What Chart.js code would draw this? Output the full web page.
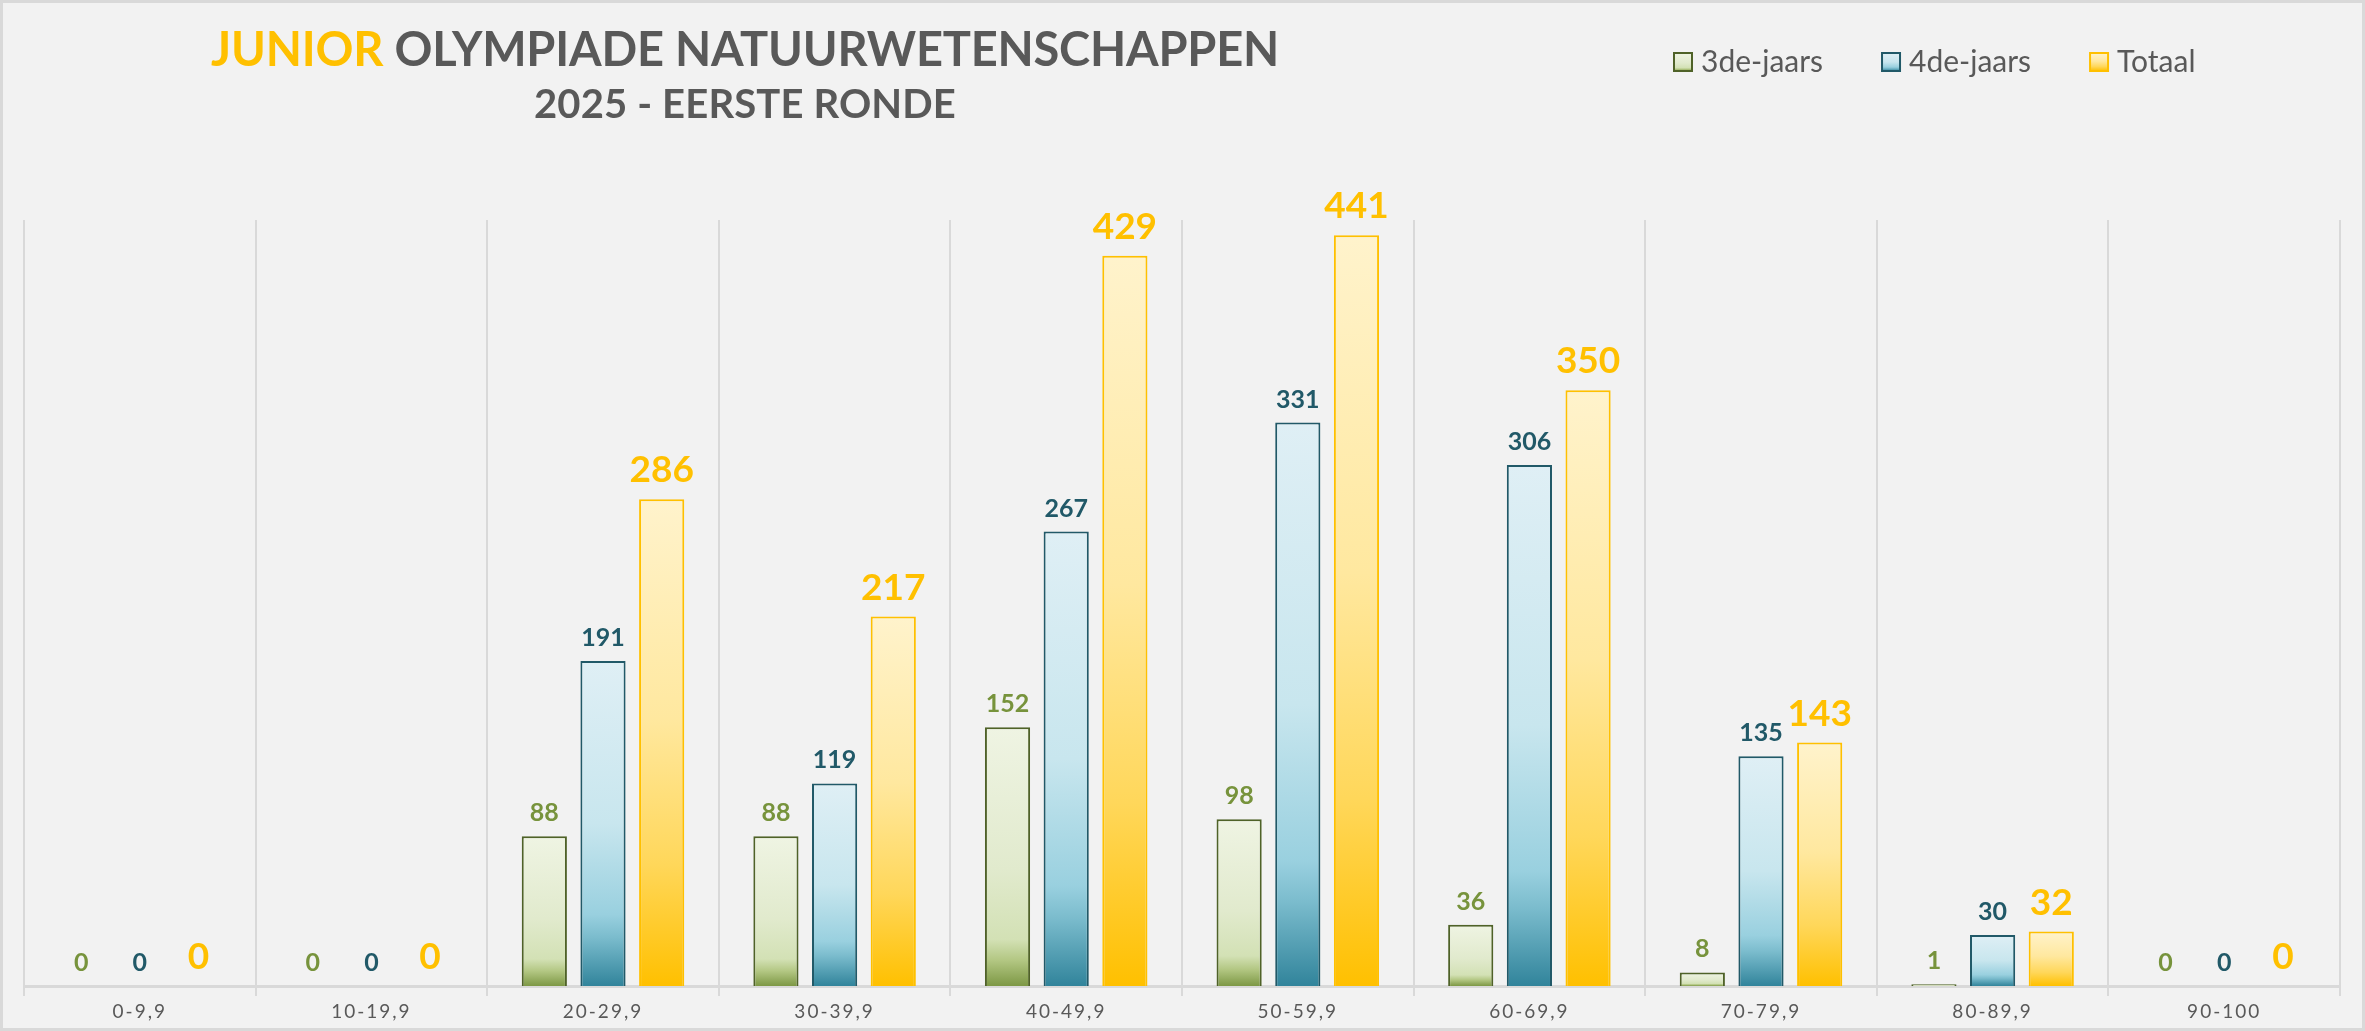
<!DOCTYPE html>
<html>
<head>
<meta charset="utf-8">
<script src="https://cdn.jsdelivr.net/npm/chart.js@4/dist/chart.umd.min.js"></script>
<style>
	html, body { margin: 0; padding: 0; background: #f2f2f2; }
	canvas { display: block; }
</style>
</head>
<body>
<canvas id="olympiade-chart" width="2365" height="1031"></canvas>
<script>
// Data
const categories = ["0-9,9", "10-19,9", "20-29,9", "30-39,9", "40-49,9", "50-59,9", "60-69,9", "70-79,9", "80-89,9", "90-100"];
const derdeJaars = [0, 0, 88, 88, 152, 98, 36, 8, 1, 0];
const vierdeJaars = [0, 0, 191, 119, 267, 331, 306, 135, 30, 0];
const totaal = [0, 0, 286, 217, 429, 441, 350, 143, 32, 0];
const seriesNames = ["3de-jaars", "4de-jaars", "Totaal"];

const theme = {
	bg: "#f2f2f2",
	frame: "#d9d9d9",
	grid: "#d9d9d9",
	text: "#595959",
	gold: "#ffc000",
	font: "Lato, 'Open Sans', sans-serif"
};

const seriesStyle = [
	{
		border: "#4f6228",
		label: "#77933c",
		labelSize: 25,
		stops: [[0, "#eff4e3"], [0.55, "#e1eacd"], [0.82, "#d3e1b5"], [0.9, "#b3c783"], [1, "#7d9845"]]
	},
	{
		border: "#215968",
		label: "#215968",
		labelSize: 25,
		stops: [[0, "#dfeff5"], [0.5, "#c8e6ee"], [0.78, "#99d0df"], [0.85, "#7bbccd"], [1, "#31849b"]]
	},
	{
		border: "#ffc000",
		label: "#ffc000",
		labelSize: 37,
		stops: [[0, "#fff3cc"], [0.45, "#ffe89f"], [0.75, "#ffd75a"], [1, "#ffc000"]]
	}
];

function makeGradient(ctx, stops, top, bottom) {
	const g = ctx.createLinearGradient(0, top, 0, bottom);
	stops.forEach(([at, color]) => g.addColorStop(at, color));
	return g;
}

function barFill(index) {
	return (context) => {
		const chart = context.chart;
		const yScale = chart.scales.y;
		const stops = seriesStyle[index].stops;
		if (!chart.chartArea || !yScale || context.raw === undefined) return stops[1][1];
		const top = yScale.getPixelForValue(context.raw);
		const bottom = yScale.getPixelForValue(0);
		if (bottom - top < 1) return stops[stops.length - 1][1];
		return makeGradient(chart.ctx, stops, top, bottom);
	};
}

// Title, legend, frame
const decorPlugin = {
	id: "decor",
	beforeDraw(chart) {
		const ctx = chart.ctx;
		ctx.save();
		ctx.fillStyle = theme.bg;
		ctx.fillRect(0, 0, chart.width, chart.height);
		ctx.restore();
		// letter spaced axis labels
		ctx.letterSpacing = "2px";
	},
	beforeDatasetsDraw(chart) {
		chart.ctx.letterSpacing = "0px";
	},
	afterDraw(chart) {
		const ctx = chart.ctx;
		ctx.save();
		ctx.strokeStyle = theme.frame;
		ctx.lineWidth = 3;
		ctx.strokeRect(1.5, 1.5, chart.width - 3, chart.height - 3);

		// title
		ctx.textBaseline = "alphabetic";
		ctx.textAlign = "left";
		ctx.font = `bold 47px ${theme.font}`;
		const first = "JUNIOR";
		const rest = " OLYMPIADE NATUURWETENSCHAPPEN";
		const rawW = ctx.measureText(first + rest).width;
		const targetW = 1068;
		const ls = (targetW - rawW) / (first + rest).length;
		ctx.letterSpacing = `${ls}px`;
		const w1 = ctx.measureText(first).width;
		const w2 = ctx.measureText(rest).width;
		let x = 745 - (w1 + w2) / 2;
		ctx.fillStyle = theme.gold;
		ctx.fillText(first, x, 66);
		ctx.fillStyle = theme.text;
		ctx.fillText(rest, x + w1, 66);

		ctx.font = `bold 40px ${theme.font}`;
		const sub = "2025 - EERSTE RONDE";
		ctx.letterSpacing = "0px";
		const subRaw = ctx.measureText(sub).width;
		ctx.letterSpacing = `${(422 - subRaw) / sub.length}px`;
		ctx.textAlign = "center";
		ctx.fillText(sub, 745, 118);
		ctx.letterSpacing = "0px";

		// legend
		ctx.font = `30px ${theme.font}`;
		ctx.textAlign = "left";
		ctx.textBaseline = "middle";
		let lx = 1674;
		const ly = 62;
		seriesNames.forEach((name, i) => {
			const st = seriesStyle[i];
			ctx.fillStyle = makeGradient(ctx, st.stops, ly - 9, ly + 9);
			ctx.fillRect(lx, ly - 9, 18, 18);
			ctx.strokeStyle = st.border;
			ctx.lineWidth = 2;
			ctx.strokeRect(lx, ly - 9, 18, 18);
			ctx.fillStyle = theme.text;
			ctx.fillText(name, lx + 27, ly);
			lx += 27 + ctx.measureText(name).width + 59;
		});
		ctx.restore();
	}
};

// Values above the bars
const valueLabelPlugin = {
	id: "valueLabels",
	afterDatasetsDraw(chart) {
		const ctx = chart.ctx;
		ctx.save();
		ctx.textAlign = "center";
		ctx.textBaseline = "alphabetic";
		chart.data.datasets.forEach((ds, i) => {
			const st = seriesStyle[i];
			const meta = chart.getDatasetMeta(i);
			ctx.font = `bold ${st.labelSize}px ${theme.font}`;
			ctx.fillStyle = st.label;
			const gap = i === 2 ? 17 : 15;
			meta.data.forEach((bar, j) => {
				ctx.fillText(String(ds.data[j]), bar.x, bar.y - gap);
			});
		});
		ctx.restore();
	}
};

function buildDataset(label, data, index) {
	return {
		label,
		data,
		backgroundColor: barFill(index),
		borderColor: seriesStyle[index].border,
		borderWidth: 2,
		borderSkipped: "bottom",
		categoryPercentage: 0.76,
		barPercentage: 0.77
	};
}

new Chart(document.getElementById("olympiade-chart"), {
	type: "bar",
	data: {
		labels: categories,
		datasets: [
			buildDataset(seriesNames[0], derdeJaars, 0),
			buildDataset(seriesNames[1], vierdeJaars, 1),
			buildDataset(seriesNames[2], totaal, 2)
		]
	},
	options: {
		responsive: false,
		animation: false,
		devicePixelRatio: 1,
		layout: { padding: { top: 220, left: 24, right: 25, bottom: 0 } },
		plugins: {
			legend: { display: false },
			title: { display: false },
			tooltip: { enabled: false }
		},
		scales: {
			x: {
				grid: { color: theme.grid, lineWidth: 2, offset: true, tickLength: 10, tickColor: theme.grid },
				border: { display: true, color: theme.grid, width: 3 },
				ticks: { color: theme.text, padding: 4, font: { family: theme.font, size: 19 } },
				afterFit(scale) {
					scale.height = 45;
				}
			},
			y: {
				display: false,
				min: 0,
				max: 450
			}
		}
	},
	plugins: [decorPlugin, valueLabelPlugin]
});
</script>
</body>
</html>
